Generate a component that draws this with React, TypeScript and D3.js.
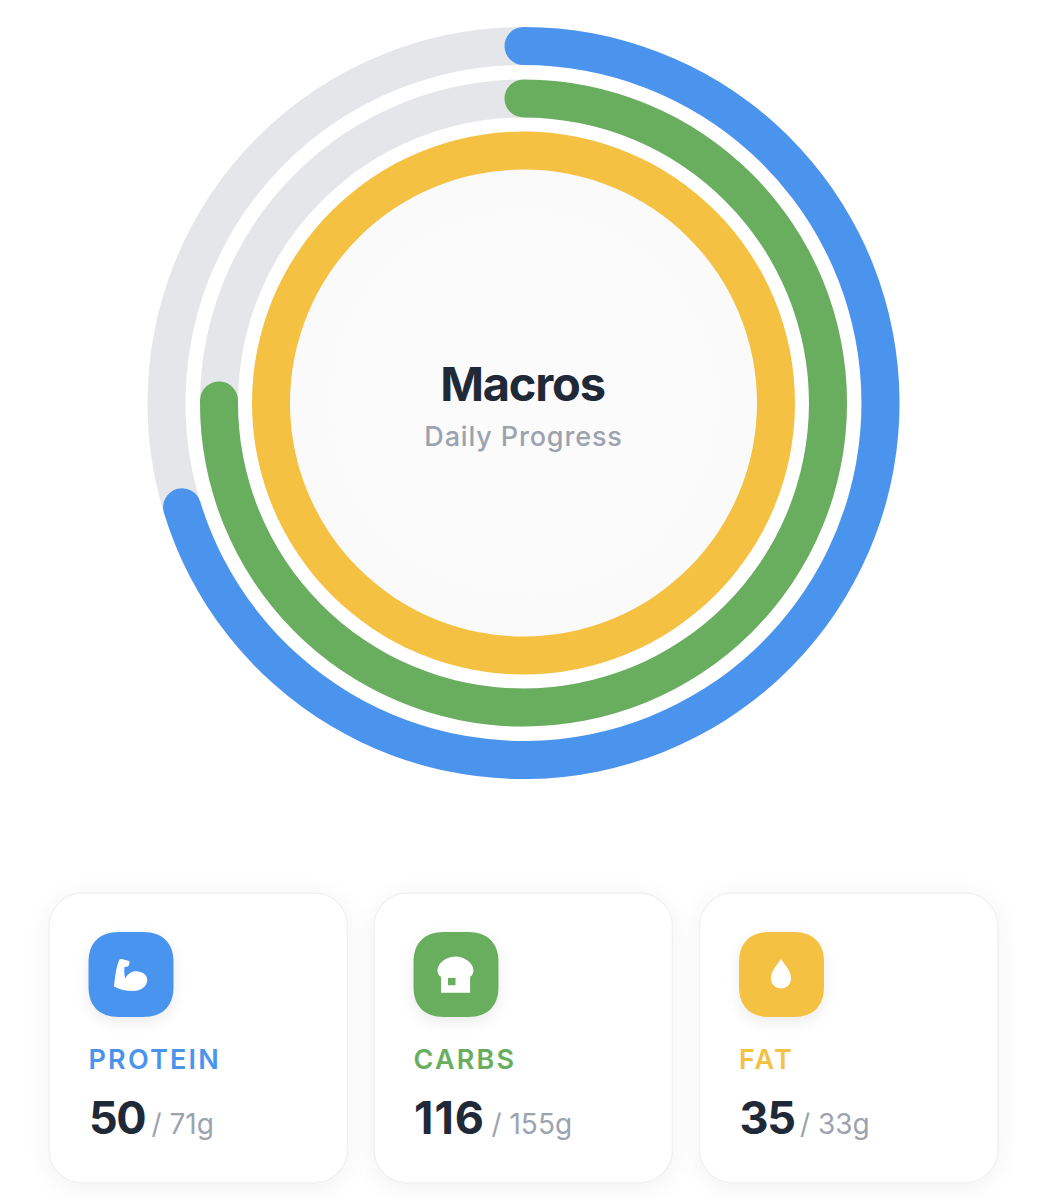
import React from "react";
import * as d3 from "d3";

const macroNames = ["PROTEIN", "CARBS", "FAT"];
const currentGrams = [49.9, 116.45, 35];
const goalGrams = [71, 155, 33];
const macroColors = ["#4a94ee", "#69ae5e", "#f4c143"];
const ringRadii = [357, 304.5, 252.5];
const cardLefts = [49, 374, 699.5];

const W = 1047, H = 1200, CX = 523.5, CY = 403, RING_W = 38;
const FF = "Inter, 'Noto Sans', sans-serif";

const Muscle = () => (
  <path fill="#fff" d="M-16.5 12 C-15.5 3 -14.5 -7 -11.5 -14 Q-11 -16 -9 -15.5 L-2 -13.8 Q-0.6 -13.3 -1 -12 L-1.6 -9.5 Q-2 -8 -3.5 -7.8 L-6 -7.4 C-6.5 -4 -6.3 0 -5.3 4 C-3 -0.5 1 -3.2 5.5 -3.2 C12 -3.2 16.8 0.5 16.8 5.5 C16.8 12 10 16.5 2.5 16.5 C-4 16.5 -11 15 -16.5 12 Z" />
);
const Bread = ({ color }: { color: string }) => (
  <g>
    <path fill="#fff" d="M-14.4 2.5 C-17 1 -18 -1.5 -18 -4 C-18 -12 -8 -18 0 -18 C8 -18 18 -12 18 -4 C18 -1.5 16.6 1 14.6 2.5 L14.6 18.3 L-14.4 18.3 Z" />
    <rect x={-7.5} y={3.5} width={7.5} height={7.2} fill={color} />
  </g>
);
const Drop = () => (
  <path fill="#fff" d="M0 -15.5 C3 -10.5 10 -4.5 10 4 C10 9.8 5.5 14 0 14 C-5.5 14 -10 9.8 -10 4 C-10 -4.5 -3 -10.5 0 -15.5 Z" />
);
const SQUIRCLE = "M30 0 H55 C74 0 85 11 85 30 V55 C85 74 74 85 55 85 H30 C11 85 0 74 0 55 V30 C0 11 11 0 30 0 Z";

export default function App() {
  const arcGen = d3.arc<any>().cornerRadius(RING_W / 2);
  const arcs = macroNames.map((_, i) => {
    const r = ringRadii[i];
    const angle = d3.scaleLinear().domain([0, goalGrams[i]]).range([0, 2 * Math.PI]).clamp(true);
    const a = angle(currentGrams[i]);
    const full = a >= 2 * Math.PI;
    const cap = (RING_W / 2) / r;
    return {
      r,
      full,
      d: arcGen({
        innerRadius: r - RING_W / 2,
        outerRadius: r + RING_W / 2,
        startAngle: full ? 0 : -cap,
        endAngle: full ? 2 * Math.PI : a + cap,
      }) as string,
    };
  });

  return (
    <svg width={W} height={H} viewBox={`0 0 ${W} ${H}`} style={{ position: "absolute", left: 0, top: 0, background: "#fff" }}>
      <defs>
        <filter id="cardShadow" x="-20%" y="-20%" width="140%" height="140%">
          <feDropShadow dx="0" dy="4" stdDeviation="11" floodColor="#000" floodOpacity="0.05" />
        </filter>
        <filter id="iconShadow" x="-40%" y="-40%" width="180%" height="180%">
          <feDropShadow dx="0" dy="5" stdDeviation="7" floodColor="#000" floodOpacity="0.08" />
        </filter>
        <filter id="innerBlur" x="-20%" y="-20%" width="140%" height="140%">
          <feGaussianBlur stdDeviation="10" />
        </filter>
        <clipPath id="discClip"><circle cx={CX} cy={CY} r={233.5} /></clipPath>
      </defs>

      <circle cx={CX} cy={CY} r={233.5} fill="#fafafb" />
      <circle cx={CX} cy={CY} r={203} fill="#fbfbfc" stroke="#f1f1f3" strokeWidth={3} filter="url(#innerBlur)" clipPath="url(#discClip)" />

      <g transform={`translate(${CX},${CY})`}>
        {arcs.map((a, i) => (
          <g key={macroNames[i]}>
            {!a.full && <circle r={a.r} fill="none" stroke="#e5e6ea" strokeWidth={RING_W} />}
            <path d={a.d} fill={macroColors[i]} />
          </g>
        ))}
      </g>

      <text x={CX - 1} y={401} textAnchor="middle" fontFamily={FF} fontWeight={700} fontSize={47} letterSpacing={-1.2} fill="#1f2937">Macros</text>
      <text x={CX} y={446} textAnchor="middle" fontFamily={FF} fontWeight={500} fontSize={27} letterSpacing={0.85} fill="#9ca3af">Daily Progress</text>

      {macroNames.map((name, i) => {
        const x = cardLefts[i];
        const color = macroColors[i];
        const numW = [56, 71, 54][i];
        const numSpacing = [-1.5, 1, -1.2][i];
        return (
          <g key={name} transform={`translate(${x},893)`}>
            <rect x={0} y={0} width={298.5} height={290} rx={33} fill="#fff" stroke="#f1f1f3" strokeWidth={1.5} filter="url(#cardShadow)" />
            <g transform="translate(39.5,39)">
              <path d={SQUIRCLE} fill={color} filter="url(#iconShadow)" />
              <g transform="translate(42,42.5)">
                {i === 0 && <Muscle />}
                {i === 1 && <Bread color={color} />}
                {i === 2 && <Drop />}
              </g>
            </g>
            <text x={39.5} y={176} fontFamily={FF} fontWeight={600} fontSize={27} letterSpacing={2.2} fill={color}>{name}</text>
            <text x={40} y={241} fontFamily={FF} fontWeight={700} fontSize={45} letterSpacing={numSpacing} fill="#1f2937">{Math.round(currentGrams[i])}</text>
            <text x={40 + numW + 6.5} y={241} fontFamily={FF} fontWeight={400} fontSize={28} fill="#9ca3af">{`/ ${goalGrams[i]}g`}</text>
          </g>
        );
      })}
    </svg>
  );
}
